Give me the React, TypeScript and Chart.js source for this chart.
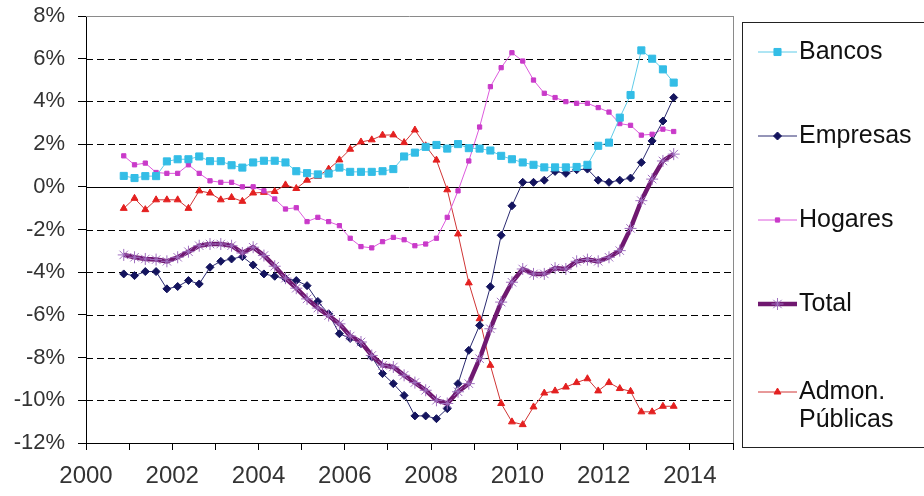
import React, { useEffect, useRef } from "react";
import { Chart, registerables } from "chart.js";
import { drawPoint } from "chart.js/helpers";

Chart.register(...registerables);

// Quarterly series, first quarter plotted at 2000.875, one point every quarter
const startYear = 2000.875;
const quarterStep = 0.25;

const bancos = [
  0.51, 0.41, 0.5, 0.5, 1.19, 1.29, 1.29, 1.42, 1.2, 1.2, 1.01, 0.9, 1.14,
  1.22, 1.22, 1.14, 0.73, 0.64, 0.58, 0.62, 0.9, 0.7, 0.7, 0.7, 0.73, 0.83,
  1.42, 1.6, 1.87, 1.96, 1.79, 2.0, 1.81, 1.79, 1.7, 1.45, 1.29, 1.14, 1.03,
  0.91, 0.91, 0.91, 0.93, 1.03, 1.92, 2.07, 3.24, 4.3, 6.39, 6.0, 5.5, 4.88,
];

const empresas = [
  -4.08, -4.16, -3.97, -3.97, -4.78, -4.67, -4.39, -4.55, -3.77, -3.49, -3.38,
  -3.27, -3.66, -4.08, -4.19, -4.3, -4.39, -4.63, -5.37, -5.95, -6.88, -7.1,
  -7.35, -7.97, -8.75, -9.22, -9.77, -10.73, -10.73, -10.86, -10.39, -9.22,
  -7.66, -6.49, -4.68, -2.27, -0.89, 0.21, 0.21, 0.31, 0.72, 0.63, 0.8, 0.83,
  0.31, 0.21, 0.31, 0.41, 1.14, 2.15, 3.08, 4.18,
];

const hogares = [
  1.45, 1.03, 1.11, 0.67, 0.63, 0.63, 1.03, 0.63, 0.28, 0.21, 0.21, 0.0, 0.0,
  -0.19, -0.57, -1.04, -0.98, -1.63, -1.43, -1.63, -1.82, -2.41, -2.8, -2.86,
  -2.57, -2.37, -2.48, -2.76, -2.68, -2.41, -1.43, -0.19, 1.21, 2.8, 4.69,
  5.58, 6.28, 5.89, 5.0, 4.38, 4.18, 3.99, 3.91, 3.91, 3.71, 3.5, 2.96, 2.88,
  2.42, 2.46, 2.7, 2.59,
];

const total = [
  -3.19, -3.3, -3.38, -3.41, -3.49, -3.3, -3.04, -2.76, -2.68, -2.68, -2.76,
  -3.1, -2.83, -3.22, -3.72, -4.28, -4.75, -5.25, -5.68, -6.03, -6.42, -6.99,
  -7.27, -7.9, -8.36, -8.44, -8.83, -9.17, -9.53, -10.0, -10.15, -9.6, -9.22,
  -8.05, -6.65, -5.4, -4.47, -3.85, -4.08, -4.08, -3.81, -3.85, -3.49, -3.41,
  -3.49, -3.3, -2.99, -1.95, -0.65, 0.36, 1.21, 1.53,
];

const admonPublicas = [
  -1.01, -0.54, -1.07, -0.61, -0.61, -0.61, -1.01, -0.19, -0.29, -0.61, -0.5,
  -0.68, -0.29, -0.26, -0.22, 0.09, -0.08, 0.31, 0.49, 0.83, 1.26, 1.76, 2.1,
  2.2, 2.42, 2.43, 2.07, 2.66, 1.92, 1.25, -0.14, -2.21, -4.5, -6.18, -8.36,
  -10.15, -11.01, -11.14, -10.31, -9.66, -9.56, -9.38, -9.17, -8.99, -9.56,
  -9.17, -9.45, -9.58, -10.54, -10.54, -10.28, -10.28,
];

const seriesNames = ["Bancos", "Empresas", "Hogares", "Total", "Admon.\nPúblicas"];

const xMin = 2000;
const xMax = 2015;
const yMin = -12;
const yMax = 8;

const FONT = "'Liberation Sans', Arial, sans-serif";

const toPoints = (vals: number[]) =>
  vals.map((v, i) => ({ x: startYear + i * quarterStep, y: v }));

const styles = [
  { line: "#5fcbe8", point: "#33bde6", style: "rect", radius: 5, width: 1 },
  { line: "#2a2a70", point: "#14145e", style: "rectRot", radius: 4, width: 1 },
  { line: "#dd5add", point: "#c93ac9", style: "rect", radius: 3, width: 1 },
  { line: "#701870", point: "#a070c0", style: "star", radius: 6, width: 4.5 },
  { line: "#d03535", point: "#e42020", style: "triangle", radius: 4, width: 1 },
];

const gridPlugin = {
  id: "excelGrid",
  beforeDatasetsDraw(chart: any) {
    const { ctx, chartArea: a, scales } = chart;
    const y = scales.y;
    ctx.save();
    ctx.lineWidth = 1;
    y.ticks.forEach((t: any) => {
      if (t.value === yMin) return;
      const py = Math.round(y.getPixelForValue(t.value)) + 0.5;
      if (t.value === 0) {
        ctx.setLineDash([]);
        ctx.strokeStyle = "#000";
      } else if (t.value === yMax) {
        ctx.setLineDash([]);
        ctx.strokeStyle = "#8a8a8a";
      } else {
        ctx.setLineDash([7, 4]);
        ctx.strokeStyle = "#000";
      }
      ctx.beginPath();
      ctx.moveTo(a.left, py);
      ctx.lineTo(a.right, py);
      ctx.stroke();
    });
    ctx.setLineDash([]);
    ctx.strokeStyle = "#8a8a8a";
    ctx.beginPath();
    ctx.moveTo(Math.round(a.right) + 0.5, a.top);
    ctx.lineTo(Math.round(a.right) + 0.5, a.bottom);
    ctx.stroke();
    ctx.restore();
  },
};

const legendPlugin = {
  id: "sideLegend",
  afterDraw(chart: any) {
    const { ctx, chartArea: a } = chart;
    const boxLeft = a.right + 9;
    const boxTop = a.top + 6;
    const boxBottom = a.bottom + 4;
    ctx.save();
    ctx.strokeStyle = "#222";
    ctx.lineWidth = 1;
    ctx.strokeRect(boxLeft + 0.5, boxTop + 0.5, chart.width - boxLeft + 5, boxBottom - boxTop);
    seriesNames.forEach((name, i) => {
      const s = styles[i];
      const lines = name.split("\n");
      const cy = boxTop + 30 + i * 84 + (lines.length > 1 ? 4 : 0);
      const x0 = boxLeft + 16;
      const x1 = boxLeft + 55;
      ctx.strokeStyle = s.line;
      ctx.lineWidth = s.width;
      ctx.beginPath();
      ctx.moveTo(x0, cy);
      ctx.lineTo(x1, cy);
      ctx.stroke();
      ctx.fillStyle = s.point;
      ctx.strokeStyle = s.point;
      ctx.lineWidth = 1;
      drawPoint(
        ctx,
        { pointStyle: s.style as any, radius: s.radius, rotation: 0, borderWidth: 1 },
        (x0 + x1) / 2,
        cy
      );
      ctx.fillStyle = "#111";
      ctx.font = `25px ${FONT}`;
      ctx.textAlign = "left";
      ctx.textBaseline = "middle";
      lines.forEach((ln, k) => {
        ctx.fillText(ln, x1 + 2, cy + k * 28);
      });
    });
    ctx.restore();
  },
};

export default function App() {
  const ref = useRef<HTMLCanvasElement>(null);

  useEffect(() => {
    if (!ref.current) return;
    const data = [bancos, empresas, hogares, total, admonPublicas];
    const chart = new Chart(ref.current, {
      type: "line",
      data: {
        datasets: data.map((vals, i) => ({
          label: seriesNames[i].replace("\n", " "),
          data: toPoints(vals),
          borderColor: styles[i].line,
          borderWidth: styles[i].width,
          backgroundColor: styles[i].point,
          pointBackgroundColor: styles[i].point,
          pointBorderColor: styles[i].point,
          pointBorderWidth: 1,
          pointStyle: styles[i].style as any,
          pointRadius: styles[i].radius,
          tension: 0,
          order: i === 3 ? 0 : 1,
        })),
      },
      options: {
        animation: false,
        responsive: false,
        devicePixelRatio: 1,
        layout: { padding: { top: 16, right: 191, left: 0, bottom: 0 } },
        plugins: { legend: { display: false }, tooltip: { enabled: false } },
        scales: {
          x: {
            type: "linear",
            min: xMin,
            max: xMax,
            afterFit: (s: any) => {
              s.height = 53;
              s.paddingLeft = 0;
              s.paddingRight = 0;
            },
            ticks: {
              stepSize: 1,
              autoSkip: false,
              maxRotation: 0,
              padding: 12,
              color: "#333",
              font: { family: FONT, size: 24 },
              callback: (v: any) => (Number(v) % 2 === 0 && Number(v) < xMax ? String(v) : ""),
            },
            grid: {
              drawOnChartArea: false,
              drawTicks: true,
              tickLength: 7,
              tickColor: "#000",
            },
            border: { color: "#000", width: 1 },
          },
          y: {
            min: yMin,
            max: yMax,
            afterFit: (s: any) => {
              s.width = 86;
              s.paddingTop = 0;
              s.paddingBottom = 0;
            },
            ticks: {
              stepSize: 2,
              padding: 13,
              color: "#333",
              font: { family: FONT, size: 22 },
              callback: (v: any) => `${v}%`,
            },
            grid: {
              drawOnChartArea: false,
              drawTicks: true,
              tickLength: 8,
              tickColor: "#000",
            },
            border: { color: "#000", width: 1 },
          },
        },
      },
      plugins: [gridPlugin, legendPlugin],
    });
    return () => chart.destroy();
  }, []);

  return (
    <div style={{ position: "absolute", left: 0, top: 0, width: 924, height: 496, background: "#fff" }}>
      <canvas ref={ref} width={924} height={496} />
    </div>
  );
}
